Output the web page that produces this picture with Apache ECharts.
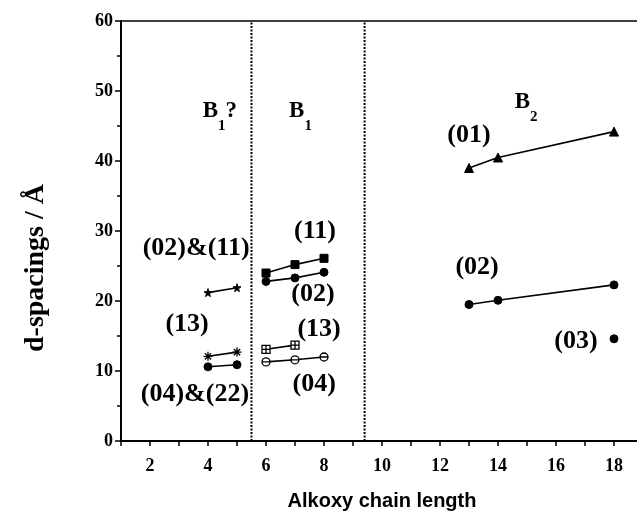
<!DOCTYPE html>
<html>
<head>
<meta charset="utf-8">
<script src="https://cdn.jsdelivr.net/npm/echarts@6/dist/echarts.min.js"></script>
<style>
  html, body { margin: 0; padding: 0; background: #fff; }
  #main { width: 637px; height: 521px; }
</style>
</head>
<body>
<div id="main"></div>
<script>
// chain lengths per phase
const xB1q = [4, 5];
const xB1 = [6, 7, 8];
const xB2 = [13, 14, 18];

// d-spacings (Å)
const star0211 = [21.2, 21.9];
const aster13 = [12.1, 12.7];
const dot0422 = [10.6, 10.9];
const sq11 = [24.0, 25.2, 26.1];
const circ02 = [22.8, 23.3, 24.1];
const sq13 = [13.1, 13.7];
const circ04 = [11.3, 11.6, 12.0];
const tri01 = [39.0, 40.5, 44.2];
const circB2 = [19.5, 20.1, 22.3];
const single03 = [[18, 14.6]];

// phase boundaries
const boundaries = [5.5, 9.4];

const xTicks = [2, 4, 6, 8, 10, 12, 14, 16, 18];
const yTicks = [0, 10, 20, 30, 40, 50, 60];

// annotation text [label, x, y]
const notes = [
  ['{b|B}{s|1}{b|?}', 4.41, 46.4],
  ['{b|B}{s|1}', 7.19, 46.4],
  ['{b|B}{s|2}', 14.97, 47.6],
  ['(01)', 13.0, 43.7],
  ['(11)', 7.69, 29.9],
  ['(02)&(11)', 3.59, 27.6],
  ['(02)', 7.62, 20.9],
  ['(13)', 3.28, 16.7],
  ['(13)', 7.83, 16.0],
  ['(04)&(22)', 3.55, 6.7],
  ['(04)', 7.66, 8.1],
  ['(02)', 13.28, 24.8],
  ['(03)', 16.69, 14.3]
];

const pair = (xs, ys) => ys.map((v, i) => [xs[i], v]);

const starPath = 'path://M50,0 L61,35 L98,35 L68,57 L79,91 L50,70 L21,91 L32,57 L2,35 L39,35 Z';
const asterPath = 'path://M50,0 L50,100 M0,50 L100,50 M15,15 L85,85 M85,15 L15,85';
const sqCrossPath = 'path://M0,0 L100,0 L100,100 L0,100 Z M50,0 L50,100 M0,50 L100,50';
const circLinePath = 'path://M100,50 A50,50 0 1 1 0,50 A50,50 0 1 1 100,50 Z M0,50 L100,50';

const serif = '"Liberation Serif", "DejaVu Serif", serif';

function lineSeries(data, symbol, size, hollow) {
  return {
    type: 'line',
    data: data,
    symbol: symbol,
    symbolSize: size,
    showAllSymbol: true,
    lineStyle: { color: '#000', width: 1.6 },
    itemStyle: hollow
      ? { color: '#fff', borderColor: '#000', borderWidth: 1.3 }
      : { color: '#000', borderColor: '#000', borderWidth: 1 },
    z: 3,
    animation: false
  };
}

var chartDom = document.getElementById('main');
var myChart = echarts.init(chartDom);

var series = [
  lineSeries(pair(xB1q, star0211), starPath, 8, false),
  lineSeries(pair(xB1q, aster13), asterPath, 9, true),
  lineSeries(pair(xB1q, dot0422), 'circle', 8, false),
  lineSeries(pair(xB1, sq11), 'rect', 8, false),
  lineSeries(pair(xB1, circ02), 'circle', 8, false),
  lineSeries(pair(xB1, sq13), sqCrossPath, 8, true),
  lineSeries(pair(xB1, circ04), circLinePath, 8, true),
  lineSeries(pair(xB2, tri01), 'triangle', 9, false),
  lineSeries(pair(xB2, circB2), 'circle', 8, false),
  lineSeries(single03, 'circle', 8, false)
];

boundaries.forEach(function (b) {
  series.push({
    type: 'line',
    data: [[b, 0], [b, 60]],
    symbol: 'none',
    lineStyle: { color: '#000', width: 2, type: [2, 1.5] },
    z: 2,
    animation: false
  });
});

series.push({
  type: 'scatter',
  data: notes.map(n => ({ name: n[0], value: [n[1], n[2]] })),
  symbolSize: 0,
  silent: true,
  itemStyle: { color: '#000', opacity: 1 },
  label: {
    show: true,
    position: 'inside',
    formatter: p => p.name,
    color: '#000',
    textBorderWidth: 0,
    textBorderColor: 'transparent',
    fontFamily: serif,
    fontWeight: 'bold',
    fontSize: 26,
    rich: {
      b: { fontFamily: serif, fontWeight: 'bold', fontSize: 23, color: '#000', verticalAlign: 'top' },
      s: { fontFamily: serif, fontWeight: 'bold', fontSize: 15, color: '#000', verticalAlign: 'top', padding: [19, 0, 0, 0] }
    }
  },
  animation: false
});

var option = {
  backgroundColor: '#fff',
  grid: { left: 121, right: -6, top: 21, bottom: 80, outerBoundsMode: 'none', containLabel: false },
  // y title sits a bit below the axis middle in the original
  graphic: [
    {
      type: 'text',
      x: 36,
      y: 268,
      rotation: Math.PI / 2,
      style: {
        text: 'd-spacings / Å',
        fill: '#000',
        font: 'bold 28px "Liberation Serif", "DejaVu Serif", serif',
        textAlign: 'center',
        textVerticalAlign: 'middle'
      }
    }
  ],
  xAxis: [
    {
      type: 'value',
      min: 1,
      max: 19,
      interval: 1,
      axisLine: { show: true, onZero: false, lineStyle: { color: '#000', width: 2 } },
      axisTick: { show: true, length: 5, lineStyle: { color: '#000', width: 1.5 } },
      splitLine: { show: false },
      axisLabel: {
        margin: 16,
        color: '#000',
        fontFamily: serif,
        fontWeight: 'bold',
        fontSize: 18,
        formatter: v => (xTicks.indexOf(v) >= 0 ? String(v) : '')
      },
      name: 'Alkoxy chain length',
      nameLocation: 'middle',
      nameGap: 50,
      nameTextStyle: { color: '#000', fontFamily: '"Liberation Sans", Arial, sans-serif', fontWeight: 'bold', fontSize: 20 }
    },
    {
      type: 'value',
      position: 'top',
      min: 1,
      max: 19,
      axisLine: { show: true, onZero: false, lineStyle: { color: '#000', width: 1.5 } },
      axisTick: { show: false },
      axisLabel: { show: false },
      splitLine: { show: false }
    }
  ],
  yAxis: {
    type: 'value',
    min: 0,
    max: 60,
    interval: 10,
    axisLine: { show: true, onZero: false, lineStyle: { color: '#000', width: 2 } },
    axisTick: { show: true, length: 6, lineStyle: { color: '#000', width: 1.5 } },
    minorTick: { show: true, splitNumber: 2, length: 4, lineStyle: { color: '#000', width: 1.5 } },
    splitLine: { show: false },
    axisLabel: {
      margin: 8,
      color: '#000',
      fontFamily: serif,
      fontWeight: 'bold',
      fontSize: 18,
      formatter: v => (yTicks.indexOf(v) >= 0 ? String(v) : '')
    }
  },
  series: series
};

option && myChart.setOption(option, true);
window.onresize = () => {
  myChart.resize();
};
</script>
</body>
</html>
